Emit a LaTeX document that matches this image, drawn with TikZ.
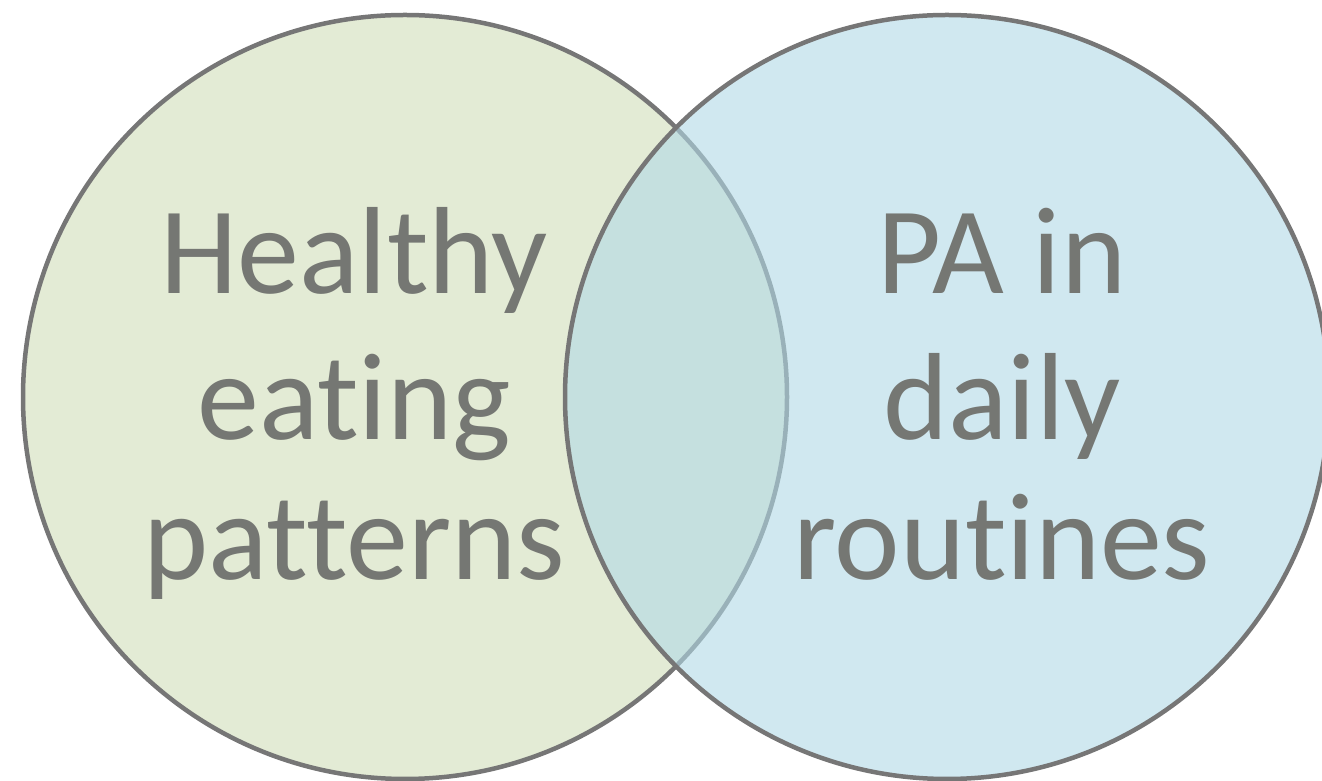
\documentclass[tikz,border=0pt]{standalone}
\usepackage{fontspec}
\setmainfont{Carlito}[Ligatures={NoCommon,NoRare}]
\definecolor{edgegray}{RGB}{118,118,118}
\definecolor{textgray}{RGB}{117,119,115}
\definecolor{leftfill}{RGB}{227,235,213}
\definecolor{rightfill}{RGB}{177,217,230}
\begin{document}
\begin{tikzpicture}[x=1pt,y=1pt,
  circ/.style={circle, draw=edgegray, line width=4.5pt, minimum size=764pt, inner sep=0pt},
  lbl/.style={text=textgray, font=\fontsize{124}{143}\selectfont, anchor=base, inner sep=0pt}]
\useasboundingbox (0,0) rectangle (1322,781);
\node[circ, fill=leftfill] (L) at (405,384) {};
\node[circ, fill=rightfill, fill opacity=0.6] (R) at (947,384) {};
\node[lbl] (l1) at (354,487) {Healthy};
\node[lbl] (l2) at (354,341) {eating};
\node[lbl] (l3) at (354,201) {patterns};
\node[lbl] (r1) at (1002,487) {PA in};
\node[lbl] (r2) at (1002,341) {daily};
\node[lbl] (r3) at (1002,201) {routines};
\end{tikzpicture}
\end{document}
